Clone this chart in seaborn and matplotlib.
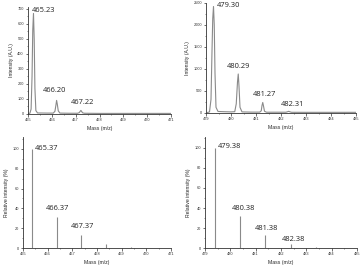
import numpy as np
import pandas as pd
import seaborn as sns
import matplotlib
matplotlib.use("Agg")
import matplotlib.pyplot as plt
from matplotlib.ticker import MultipleLocator

# ---- data ----
tl_mass = [465.00, 465.08, 465.13, 465.17, 465.20, 465.23, 465.26, 465.29, 465.33, 465.40,
           465.80, 466.06, 466.13, 466.17, 466.20, 466.23, 466.27, 466.34, 466.70,
           467.08, 467.15, 467.19, 467.22, 467.25, 467.29, 467.36, 468.0, 469.0, 470.0, 471.0]
tl_int = [0, 2, 30, 250, 560, 670, 500, 170, 20, 4,
          3, 3, 15, 55, 88, 62, 18, 3, 2,
          2, 6, 15, 21, 14, 5, 2, 1, 1, 1, 1]

tr_mass = [479.05, 479.14, 479.20, 479.24, 479.27, 479.30, 479.33, 479.36, 479.40, 479.48,
           479.70, 480.00, 480.15, 480.21, 480.26, 480.29, 480.32, 480.36, 480.44, 480.80,
           481.15, 481.21, 481.24, 481.27, 481.30, 481.34, 481.42, 482.20, 482.27, 482.31,
           482.35, 482.42, 483.0, 484.0, 485.0]
tr_int = [0, 15, 300, 1400, 2150, 2420, 2000, 900, 120, 25,
          20, 15, 20, 200, 700, 880, 600, 120, 15, 10,
          10, 40, 160, 230, 150, 30, 8, 8, 20, 28,
          18, 6, 5, 5, 5]

bl_mass = [465.37, 466.37, 467.37, 468.37, 469.37, 470.37]
bl_int = [100, 31, 13, 4, 0.8, 0.2]

br_mass = [479.38, 480.38, 481.38, 482.38, 483.38, 484.38]
br_int = [100, 32, 13, 4, 1.0, 0.3]

tl_labels = ["465.23", "466.20", "467.22"]
tl_lab_pos = [(465.17, 687), (465.63, 153), (466.80, 73)]
tr_labels = ["479.30", "480.29", "481.27", "482.31"]
tr_lab_pos = [(479.44, 2440), (479.85, 1045), (480.89, 409), (481.98, 182)]
bl_labels = ["465.37", "466.37", "467.37"]
bl_lab_pos = [(465.49, 100), (465.93, 39.4), (466.94, 22)]
br_labels = ["479.38", "480.38", "481.38", "482.38"]
br_lab_pos = [(479.51, 100.6), (480.07, 40), (480.98, 20), (482.04, 9)]

sns.set_theme(style="ticks")
plt.rcParams["font.family"] = ["Liberation Sans", "DejaVu Sans"]

W, H = 362, 268
fig = plt.figure(figsize=(W / 100, H / 100), dpi=100)


def box(l, r, t, b):
    return [l / W, (H - b) / H, (r - l) / W, (b - t) / H]


axes = {
    "tl": fig.add_axes(box(28, 171, 7, 114)),
    "tr": fig.add_axes(box(206, 356, 3, 113)),
    "bl": fig.add_axes(box(23, 171, 137, 248)),
    "br": fig.add_axes(box(205, 357, 137, 248.3)),
}

line_col = "#8a8a8a"
spine_col = "#333333"
lab_font = dict(fontsize=5.4, color="#222222", family=["Open Sans", "DejaVu Sans"],
                ha="left", va="center")

# top-left profile
ax = axes["tl"]
sns.lineplot(data=pd.DataFrame({"m": tl_mass, "i": tl_int}), x="m", y="i", ax=ax,
             color=line_col, lw=0.8)
ax.set_xlim(465, 471)
ax.set_ylim(-3, 713)
ax.yaxis.set_major_locator(MultipleLocator(100))
ax.yaxis.set_minor_locator(MultipleLocator(50))
ax.set_ylabel("Intensity (A.U.)")
for t, (x, y) in zip(tl_labels, tl_lab_pos):
    ax.text(x, y, t, **lab_font)

# top-right profile
ax = axes["tr"]
sns.lineplot(data=pd.DataFrame({"m": tr_mass, "i": tr_int}), x="m", y="i", ax=ax,
             color=line_col, lw=0.8)
ax.set_xlim(479, 485)
ax.set_ylim(-10, 2500)
ax.yaxis.set_major_locator(MultipleLocator(500))
ax.yaxis.set_minor_locator(MultipleLocator(250))
ax.set_ylabel("Intensity (A.U.)")
for t, (x, y) in zip(tr_labels, tr_lab_pos):
    ax.text(x, y, t, **lab_font)

# bottom sticks
for key, mass, inten, labels, pos, xl, yt in [
    ("bl", bl_mass, bl_int, bl_labels, bl_lab_pos, (465, 471), 112),
    ("br", br_mass, br_int, br_labels, br_lab_pos, (479, 485), 110.5),
]:
    ax = axes[key]
    ax.vlines(mass, 0, inten, color=line_col, lw=0.8)
    ax.set_xlim(*xl)
    ax.set_ylim(0, yt)
    ax.yaxis.set_major_locator(MultipleLocator(20))
    ax.yaxis.set_minor_locator(MultipleLocator(10))
    ax.set_ylabel("Relative intensity (%)")
    for t, (x, y) in zip(labels, pos):
        ax.text(x, y, t, **lab_font)

for ax in axes.values():
    sns.despine(ax=ax)
    ax.xaxis.set_major_locator(MultipleLocator(1))
    ax.xaxis.set_minor_locator(MultipleLocator(0.5))
    ax.set_xlabel("Mass (m/z)")
    ax.xaxis.label.set_size(3.7)
    ax.yaxis.label.set_size(3.7)
    ax.xaxis.labelpad = 2.5
    ax.yaxis.labelpad = 2.5
    ax.tick_params(which="major", length=1.8, width=0.5, labelsize=2.8, pad=1.2,
                   color=spine_col, labelcolor="#333333")
    ax.tick_params(which="minor", length=1.0, width=0.4, color=spine_col)
    for s in ("left", "bottom"):
        ax.spines[s].set_linewidth(0.6)
        ax.spines[s].set_color(spine_col)
    ax.xaxis.set_major_formatter(matplotlib.ticker.FormatStrFormatter("%d"))
    ax.yaxis.set_major_formatter(matplotlib.ticker.FormatStrFormatter("%d"))

fig.savefig("out.png", dpi=100)
